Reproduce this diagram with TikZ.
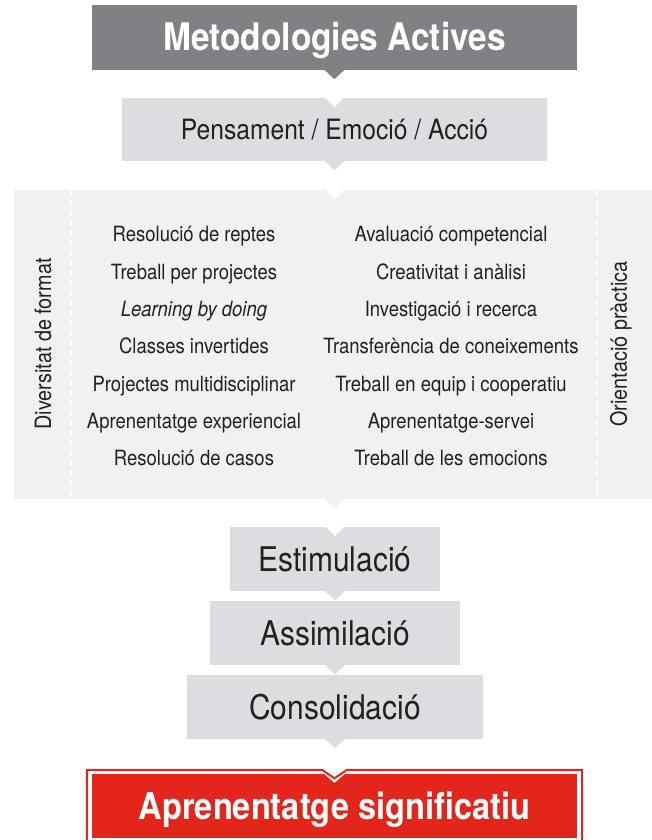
\documentclass[tikz,border=0pt]{standalone}
\usepackage{fontspec}
\setmainfont{TeX Gyre Heros}[FakeStretch=0.88]
\usetikzlibrary{positioning,calc}
\definecolor{darkbox}{RGB}{128,129,133}
\definecolor{lightbox}{RGB}{220,221,224}
\definecolor{panelgray}{RGB}{240,241,243}
\definecolor{redbox}{RGB}{227,37,27}
\definecolor{ink}{RGB}{35,31,32}

% small triangle under a box, white notch on top of a box
\newcommand{\pointer}[2]{\fill[#2] ($(#1.south)+(-10,-0.3)$) -- ($(#1.south)+(10,-0.3)$) -- ($(#1.south)+(0,9)$) -- cycle;}
\newcommand{\notch}[1]{\fill[white] ($(#1.north)+(-9.5,-0.5)$) -- ($(#1.north)+(9.5,-0.5)$) -- ($(#1.north)+(0,9.5)$) -- cycle;}

\begin{document}
\begin{tikzpicture}[
                    x=1pt, y=-1pt,
                    box/.style={rectangle, inner sep=0pt, text depth=0pt},
                    stepbox/.style={box, fill=lightbox, minimum height=64pt, text=ink, text height=24pt,
                                    font=\fontsize{34}{38}\selectfont},
                    item/.style={anchor=base, text=ink, font=\fontsize{21}{25}\selectfont},
                    side/.style={rotate=90, text=ink, font=\fontsize{22.5}{27}\selectfont}
                ]
                    \useasboundingbox (0,0) rectangle (651,840);

                    % Header boxes
                    \node[box, fill=darkbox, minimum width=485pt, minimum height=65pt, text=white, text height=27pt,
                          font=\fontsize{38}{42}\selectfont\bfseries] (title) at (334.5,37.5) {Metodologies Actives};
                    \node[box, fill=lightbox, minimum width=425pt, minimum height=63pt, text=ink, text height=20pt,
                          font=\fontsize{28}{32}\selectfont] (pea) at (334.5,129.5) {Pensament / Emoció / Acció};

                    % Panel with methods
                    \node[box, fill=panelgray, minimum width=641pt, minimum height=309pt] (panel) at (334.5,344.5) {};
                    \draw[white, line width=2pt, dash pattern=on 6pt off 4pt]
                        ($(panel.north west)+(57,0)$) -- ($(panel.south west)+(57,0)$);
                    \draw[white, line width=2pt, dash pattern=on 6pt off 4pt]
                        ($(panel.north east)+(-58,0)$) -- ($(panel.south east)+(-58,0)$);
                    \node[side] (divers) at (43,344) {Diversitat de format};
                    \node[side] (orient) at (621,344) {Orientació pràctica};

                    \node[item] (l1) at (194,241.5) {Resolució de reptes};
                    \node[item] (l2) at (194,279) {Treball per projectes};
                    \node[item] (l3) at (194,316) {\itshape Learning by doing};
                    \node[item] (l4) at (194,353.5) {Classes invertides};
                    \node[item] (l5) at (194,391) {Projectes multidisciplinar};
                    \node[item] (l6) at (194,428) {Aprenentatge experiencial};
                    \node[item] (l7) at (194,465.5) {Resolució de casos};
                    \node[item] (r1) at (451,241.5) {Avaluació competencial};
                    \node[item] (r2) at (451,279) {Creativitat i anàlisi};
                    \node[item] (r3) at (451,316) {Investigació i recerca};
                    \node[item] (r4) at (451,353.5) {Transferència de coneixements};
                    \node[item] (r5) at (451,391) {Treball en equip i cooperatiu};
                    \node[item] (r6) at (451,428) {Aprenentatge-servei};
                    \node[item] (r7) at (451,465.5) {Treball de les emocions};

                    % Steps
                    \node[stepbox, minimum width=210pt] (estim) at (335,559) {Estimulació};
                    \node[stepbox, minimum width=250pt] (assim) at (335,633) {Assimilació};
                    \node[stepbox, minimum width=296pt] (consol) at (335,707) {Consolidació};

                    % Result
                    \node[box, fill=redbox, minimum width=485pt, minimum height=64pt, text=white, text height=27pt,
                          font=\fontsize{37}{41}\selectfont\bfseries] (result) at (334.5,806) {Aprenentatge significatiu};
                    \fill[white] ($(result.north)+(-11,-0.5)$) -- ($(result.north)+(11,-0.5)$) -- ($(result.north)+(0,9)$) -- cycle;
                    \draw[redbox, line width=2pt] ($(result.south west)+(-5,4)$) |- ($(result.north)+(-12.5,-4)$)
                        -- ($(result.north)+(0,4.5)$) -- ($(result.north)+(12.5,-4)$) -| ($(result.south east)+(5,4)$);

                    % Pointers and notches
                    \pointer{title}{darkbox}
                    \pointer{pea}{lightbox}
                    \pointer{panel}{panelgray}
                    \pointer{estim}{lightbox}
                    \pointer{assim}{lightbox}
                    \pointer{consol}{lightbox}
                    \notch{pea}
                    \notch{panel}
                    \notch{estim}
                \end{tikzpicture}
\end{document}
